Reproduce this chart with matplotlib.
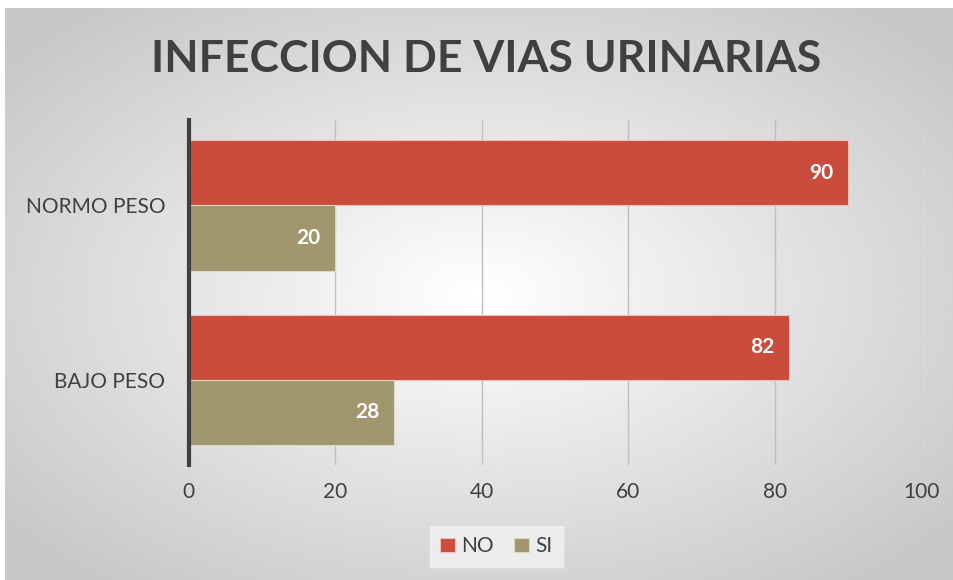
import numpy as np
import matplotlib.pyplot as plt

# data
categories = ['BAJO PESO', 'NORMO PESO']
no_values = [82, 90]
si_values = [28, 20]
xticks = [0, 20, 40, 60, 80, 100]

red = '#C94C3C'
olive = '#A0976E'
text_col = '#404040'

plt.rcParams['font.family'] = ['Lato', 'DejaVu Sans']

fig = plt.figure(figsize=(9.54, 5.80), dpi=100)

# radial gradient background
bg = fig.add_axes([0.005, 0.0, 0.995, 0.986])
yy, xx = np.mgrid[-1:1:300j, -1:1:500j]
r = np.sqrt(xx ** 2 + yy ** 2)
shade = 1.0 - 0.22 * np.clip(r / 1.3, 0, 1)
bg.imshow(shade, cmap='gray', vmin=0, vmax=1, aspect='auto', extent=[0, 1, 0, 1])
bg.set_axis_off()

ax = fig.add_axes([0.198, 0.198, 0.7675, 0.595])
ax.patch.set_alpha(0)

y = np.arange(len(categories))
h = 0.374
ax.barh(y + h / 2, no_values, height=h, color=red, edgecolor='#f0c0b8', linewidth=0.8, label='NO', zorder=3)
ax.barh(y - h / 2, si_values, height=h, color=olive, edgecolor='#dcd8c4', linewidth=0.8, label='SI', zorder=3)

for i in range(len(categories)):
    ax.text(no_values[i] - 2, y[i] + h / 2, str(no_values[i]), color='white', fontsize=15,
            weight='bold', ha='right', va='center', zorder=4)
    ax.text(si_values[i] - 2, y[i] - h / 2, str(si_values[i]), color='white', fontsize=15,
            weight='bold', ha='right', va='center', zorder=4)

ax.set_xlim(0, 100)
ax.set_ylim(-0.49, 1.49)
ax.set_xticks(xticks)
ax.set_yticks(y)
ax.set_yticklabels(categories)
ax.tick_params(axis='both', length=0, labelsize=15, colors=text_col)
ax.tick_params(axis='x', pad=12)
ax.tick_params(axis='y', pad=17)
ax.grid(axis='x', color='#bfbfbf', linewidth=1, zorder=0)
ax.set_axisbelow(True)
for s in ['top', 'right', 'bottom']:
    ax.spines[s].set_visible(False)
ax.spines['left'].set_color(text_col)
ax.spines['left'].set_linewidth(3)
ax.spines['left'].set_zorder(5)

fig.text(0.51, 0.898, 'INFECCION DE VIAS URINARIAS', ha='center', va='center',
         fontsize=32, weight='bold', color=text_col)

leg = fig.legend(loc='center', bbox_to_anchor=(0.52, 0.058), ncol=2, frameon=True,
                 fontsize=15, handlelength=0.7, handleheight=0.7, handletextpad=0.3,
                 columnspacing=1.0, fancybox=False, borderpad=0.5)
leg.get_frame().set_facecolor('#f2f2f2')
leg.get_frame().set_edgecolor('#f2f2f2')
for t in leg.get_texts():
    t.set_color(text_col)

fig.savefig('out.png', dpi=100, facecolor='white')
